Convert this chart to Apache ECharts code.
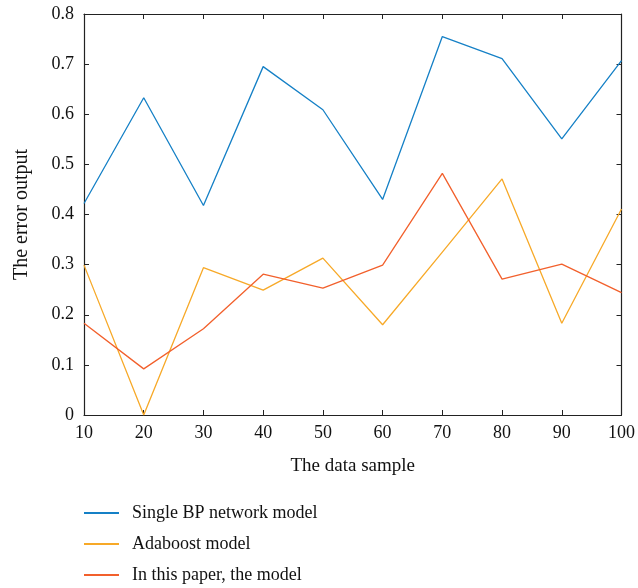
<!DOCTYPE html>
<html>
<head>
<meta charset="utf-8">
<script src="https://cdn.jsdelivr.net/npm/echarts@6/dist/echarts.min.js"></script>
<style>
  html, body { margin: 0; padding: 0; background: #fff; }
  #chart { width: 638px; height: 588px; }
</style>
</head>
<body>
<div id="chart"></div>
<script>
// data
const samples = [10, 20, 30, 40, 50, 60, 70, 80, 90, 100];
const singleBP = [0.422, 0.633, 0.418, 0.695, 0.609, 0.430, 0.755, 0.711, 0.551, 0.707];
const adaboost = [0.299, 0.0, 0.294, 0.249, 0.313, 0.180, 0.325, 0.471, 0.183, 0.411];
const paperModel = [0.183, 0.092, 0.172, 0.281, 0.253, 0.299, 0.482, 0.271, 0.301, 0.244];
const seriesNames = ['Single BP network model', 'Adaboost model', 'In this paper, the model'];
const colors = ['#1580c6', '#f7a928', '#f2602c'];

const chart = echarts.init(document.getElementById('chart'));
const font = 'Liberation Serif, DejaVu Serif, serif';

const pairs = (ys) => samples.map((x, i) => [x, ys[i]]);

// box frame: every axis draws its line and inward ticks
const axisCommon = {
  axisLine: { show: true, onZero: false, lineStyle: { color: '#222', width: 1.2 } },
  axisTick: { show: true, inside: true, length: 5, lineStyle: { color: '#222' } },
  splitLine: { show: false }
};

const option = {
  animation: false,
  textStyle: { fontFamily: font },
  color: colors,
  grid: { left: 84, right: 15, top: 14, bottom: 173 },
  xAxis: [
    Object.assign({
      type: 'value', min: 10, max: 100, interval: 10, position: 'bottom',
      name: 'The data sample', nameLocation: 'middle', nameGap: 42,
      nameTextStyle: { fontFamily: font, fontSize: 19, color: '#111' },
      axisLabel: { fontFamily: font, fontSize: 18, color: '#111', margin: 9 }
    }, axisCommon),
    Object.assign({
      type: 'value', min: 10, max: 100, interval: 10, position: 'top',
      axisLabel: { show: false }
    }, axisCommon)
  ],
  yAxis: [
    Object.assign({
      type: 'value', min: 0, max: 0.8, interval: 0.1, position: 'left',
      name: 'The error output', nameLocation: 'middle', nameGap: 52,
      nameTextStyle: { fontFamily: font, fontSize: 20, color: '#111' },
      axisLabel: {
        fontFamily: font, fontSize: 18, color: '#111', margin: 10,
        formatter: (v) => v === 0 ? '0' : v.toFixed(1)
      }
    }, axisCommon),
    Object.assign({
      type: 'value', min: 0, max: 0.8, interval: 0.1, position: 'right',
      axisLabel: { show: false }
    }, axisCommon)
  ],
  legend: {
    orient: 'vertical',
    left: 84, top: 503, padding: 0,
    itemWidth: 35, itemHeight: 2, itemGap: 11,
    icon: 'rect',
    textStyle: { fontFamily: font, fontSize: 18, color: '#111', padding: [0, 0, 0, 8], lineHeight: 20 },
    data: seriesNames
  },
  series: [
    { name: seriesNames[0], type: 'line', data: pairs(singleBP), showSymbol: false, lineStyle: { width: 1.3 } },
    { name: seriesNames[1], type: 'line', data: pairs(adaboost), showSymbol: false, lineStyle: { width: 1.3 } },
    { name: seriesNames[2], type: 'line', data: pairs(paperModel), showSymbol: false, lineStyle: { width: 1.3 } }
  ]
};

chart.setOption(option);
</script>
</body>
</html>
